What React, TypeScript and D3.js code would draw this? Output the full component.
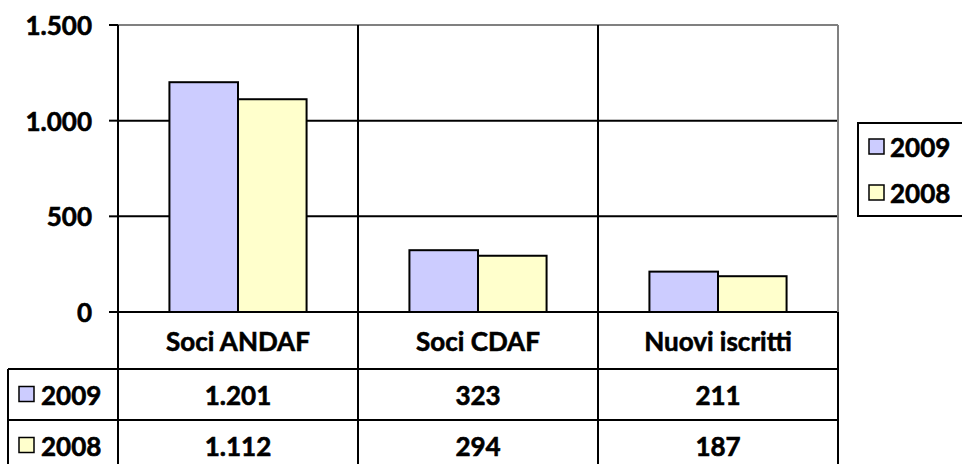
import React, { useEffect } from 'react';
import * as d3 from 'd3';

const categories = ['Soci ANDAF', 'Soci CDAF', 'Nuovi iscritti'];
const seriesNames = ['2009', '2008'];
const values2009 = [1201, 323, 211];
const values2008 = [1112, 294, 187];
const yTicks = [0, 500, 1000, 1500];
const colors = ['#ccccff', '#ffffcc'];

const fmt = (v: number) => d3.format(',')(v).replace(/,/g, '.');
const FONT = 'Lato, "Open Sans", sans-serif';

// bold label look (Calibri bold is heavier than Lato bold)
const txt = { fontSize: 26, fontWeight: 'bold', stroke: '#000', strokeWidth: 0.6 } as const;

export default function App() {
  useEffect(() => {
    document.body.style.margin = '0';
  }, []);

  const width = 962;
  const height = 464;
  const left = 118;
  const right = 838;
  const top = 25;
  const bottom = 312;

  const x0 = d3.scaleBand<string>().domain(categories).range([left, right]);
  const x1 = d3
    .scaleBand<string>()
    .domain(seriesNames)
    .range([0, x0.bandwidth()])
    .paddingInner(0)
    .paddingOuter(0.75);
  const y = d3.scaleLinear().domain([0, 1500]).range([bottom, top]);

  const series = [values2009, values2008];
  const rowTops = [369, 420];
  const rowH = 51;
  const headerMid = (bottom + rowTops[0]) / 2;

  return (
    <svg width={width} height={height} style={{ display: 'block' }} fontFamily={FONT}>
      <rect width={width} height={height} fill="#fff" />
      {/* horizontal gridlines */}
      {yTicks.map((t) => (
        <line
          key={t}
          x1={left}
          x2={right}
          y1={y(t)}
          y2={y(t)}
          stroke={t === 1500 ? '#808080' : '#000'}
          strokeWidth={2}
        />
      ))}
      {/* category separators */}
      {categories.slice(1).map((c) => (
        <line key={c} x1={x0(c)} x2={x0(c)} y1={top} y2={height} stroke="#000" strokeWidth={2} />
      ))}
      <line x1={right} x2={right} y1={top} y2={bottom} stroke="#808080" strokeWidth={2} />
      <line x1={right} x2={right} y1={bottom} y2={height} stroke="#000" strokeWidth={2} />
      {/* bars */}
      {categories.map((c, ci) =>
        series.map((vals, si) => (
          <rect
            key={c + si}
            x={(x0(c) ?? 0) + (x1(seriesNames[si]) ?? 0)}
            y={y(vals[ci])}
            width={x1.bandwidth()}
            height={bottom - y(vals[ci])}
            fill={colors[si]}
            stroke="#000"
            strokeWidth={2}
          />
        ))
      )}
      {/* y axis */}
      <line x1={left} x2={left} y1={top} y2={height} stroke="#000" strokeWidth={2} />
      {yTicks.map((t) => (
        <g key={'t' + t}>
          <line x1={109} x2={left} y1={y(t)} y2={y(t)} stroke="#000" strokeWidth={2} />
          <text x={92} y={y(t)} textAnchor="end" dominantBaseline="central" {...txt}>
            {fmt(t)}
          </text>
        </g>
      ))}
      {/* data table */}
      {categories.map((c) => (
        <text
          key={'c' + c}
          x={(x0(c) ?? 0) + x0.bandwidth() / 2}
          y={headerMid}
          textAnchor="middle"
          dominantBaseline="central"
          {...txt}
        >
          {c}
        </text>
      ))}
      {rowTops.map((rt) => (
        <line key={'r' + rt} x1={8} x2={right} y1={rt} y2={rt} stroke="#000" strokeWidth={2} />
      ))}
      <line x1={8} x2={8} y1={rowTops[0]} y2={height} stroke="#000" strokeWidth={2} />
      {seriesNames.map((s, si) => (
        <g key={'row' + s}>
          <rect x={19} y={rowTops[si] + rowH / 2 - 8} width={15} height={15} fill={colors[si]} stroke="#000" strokeWidth={1.5} />
          <text x={41} y={rowTops[si] + rowH / 2} dominantBaseline="central" {...txt}>
            {s}
          </text>
          {categories.map((c, ci) => (
            <text
              key={c}
              x={(x0(c) ?? 0) + x0.bandwidth() / 2}
              y={rowTops[si] + rowH / 2}
              textAnchor="middle"
              dominantBaseline="central"
              {...txt}
            >
              {fmt(series[si][ci])}
            </text>
          ))}
        </g>
      ))}
      {/* legend */}
      <rect x={858} y={123} width={130} height={93} fill="#fff" stroke="#000" strokeWidth={2} />
      {seriesNames.map((s, si) => (
        <g key={'lg' + s}>
          <rect x={869} y={139 + si * 46} width={15} height={15} fill={colors[si]} stroke="#000" strokeWidth={1.5} />
          <text x={890} y={147 + si * 46} dominantBaseline="central" {...txt}>
            {s}
          </text>
        </g>
      ))}
    </svg>
  );
}
